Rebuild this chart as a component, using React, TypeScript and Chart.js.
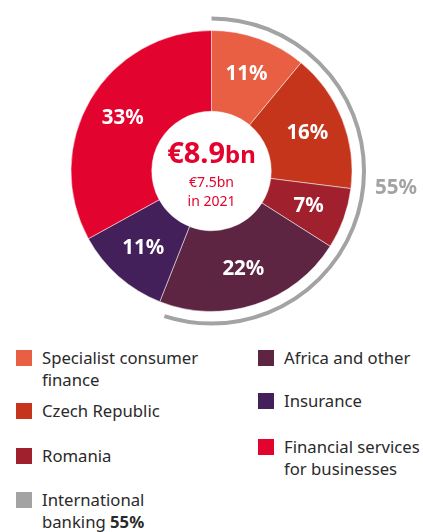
import React, { useEffect, useRef } from "react";
import { Chart, registerables } from "chart.js";

Chart.register(...registerables);

// ---- data ----
const segments = [
  "Specialist consumer finance",
  "Czech Republic",
  "Romania",
  "Africa and other",
  "Insurance",
  "Financial services for businesses",
];
const shares = [11, 16, 7, 22, 11, 33];
const colors = ["#E95F43", "#C5351C", "#A0212D", "#5E2543", "#43205A", "#E3032F"];
const internationalBankingShare = 55;
const totalValue = "€8.9";
const totalUnit = "bn";
const priorLines = ["€7.5bn", "in 2021"];

const legendLeft = [
  { label: "Specialist consumer\nfinance", color: "#E95F43" },
  { label: "Czech Republic", color: "#C5351C" },
  { label: "Romania", color: "#A0212D" },
  { label: "International\nbanking ", bold: "55%", color: "#A3A3A3" },
];
const legendRight = [
  { label: "Africa and other", color: "#5E2543" },
  { label: "Insurance", color: "#43205A" },
  { label: "Financial services\nfor businesses", color: "#E3032F" },
];

// ---- layout (not data) ----
const leftTops = [347, 400, 445, 489];
const rightTops = [347, 390, 436];

const FONT = "'Noto Sans', sans-serif";
const RED = "#E3032F";
const GRAY = "#A3A3A3";

const overlayPlugin = {
  id: "overlay",
  afterDatasetsDraw(chart: any) {
    const ctx = chart.ctx;
    const meta = chart.getDatasetMeta(0);
    const arcs = meta.data;
    if (!arcs.length) return;
    const a0 = arcs[0].getProps(["x", "y", "innerRadius", "outerRadius"], true);
    const cx = a0.x;
    const cy = a0.y;
    const outer = a0.outerRadius;
    const inner = a0.innerRadius;
    ctx.save();
    // slice labels
    ctx.fillStyle = "#ffffff";
    ctx.font = `bold 20.5px ${FONT}`;
    ctx.textAlign = "center";
    ctx.textBaseline = "middle";
    arcs.forEach((arc: any, i: number) => {
      const p = arc.getProps(["startAngle", "endAngle"], true);
      const mid = (p.startAngle + p.endAngle) / 2;
      const r = (inner + outer) / 2 + 3;
      ctx.fillText(shares[i] + "%", cx + Math.cos(mid) * r, cy + Math.sin(mid) * r);
    });
    // center text
    ctx.fillStyle = RED;
    ctx.textBaseline = "alphabetic";
    ctx.font = `bold 29px ${FONT}`;
    const w1 = ctx.measureText(totalValue).width;
    ctx.font = `bold 24px ${FONT}`;
    const w2 = ctx.measureText(totalUnit).width;
    const startX = cx - (w1 + w2) / 2;
    ctx.textAlign = "left";
    ctx.font = `bold 29px ${FONT}`;
    ctx.fillText(totalValue, startX, cy - 8);
    ctx.font = `bold 24px ${FONT}`;
    ctx.fillText(totalUnit, startX + w1, cy - 8);
    ctx.textAlign = "center";
    ctx.textBaseline = "middle";
    ctx.font = `14px ${FONT}`;
    ctx.fillText(priorLines[0], cx, cy + 12);
    ctx.fillText(priorLines[1], cx, cy + 31);
    // international banking arc
    const arcR = outer + 12;
    const start = -Math.PI / 2;
    const end = start + (internationalBankingShare / 100) * Math.PI * 2;
    ctx.beginPath();
    ctx.arc(cx, cy, arcR, start, end);
    ctx.strokeStyle = GRAY;
    ctx.lineWidth = 4;
    ctx.stroke();
    ctx.fillStyle = GRAY;
    ctx.font = `bold 20.5px ${FONT}`;
    ctx.textAlign = "left";
    ctx.fillText(internationalBankingShare + "%", cx + arcR + 11, cy + 17);
    ctx.restore();
  },
};

function LegendItem({ item, top, left }: any) {
  const lines = item.label.split("\n");
  return (
    <div style={{ position: "absolute", top, left, display: "flex", alignItems: "flex-start" }}>
      <div style={{ width: 16, height: 16, background: item.color, marginTop: 3, flexShrink: 0 }} />
      <div style={{ marginLeft: 10, fontSize: 16.7, lineHeight: "22px", color: "#2a2a2a", whiteSpace: "nowrap" }}>
        {lines.map((ln: string, i: number) => (
          <div key={i}>
            {ln}
            {i === lines.length - 1 && item.bold ? <b>{item.bold}</b> : null}
          </div>
        ))}
      </div>
    </div>
  );
}

export default function App() {
  const ref = useRef<HTMLCanvasElement>(null);
  useEffect(() => {
    if (!ref.current) return;
    const chart = new Chart(ref.current, {
      type: "doughnut",
      data: {
        labels: segments,
        datasets: [
          {
            data: shares,
            backgroundColor: colors,
            borderColor: "rgba(255,255,255,0.5)",
            borderWidth: 1,
          },
        ],
      },
      options: {
        animation: false,
        responsive: false,
        cutout: "42.5%",
        layout: { padding: { top: 30, bottom: 30 } },
        plugins: { legend: { display: false }, tooltip: { enabled: false } },
      },
      plugins: [overlayPlugin],
    });
    return () => chart.destroy();
  }, []);
  return (
    <div style={{ position: "absolute", left: 0, top: 0, width: 423, height: 532, background: "#fff", fontFamily: FONT }}>
      <canvas ref={ref} width={423} height={342} style={{ display: "block", width: 423, height: 342 }} />
      {legendLeft.map((it, i) => (
        <LegendItem key={"l" + i} item={it} top={leftTops[i]} left={16} />
      ))}
      {legendRight.map((it, i) => (
        <LegendItem key={"r" + i} item={it} top={rightTops[i]} left={258} />
      ))}
    </div>
  );
}
